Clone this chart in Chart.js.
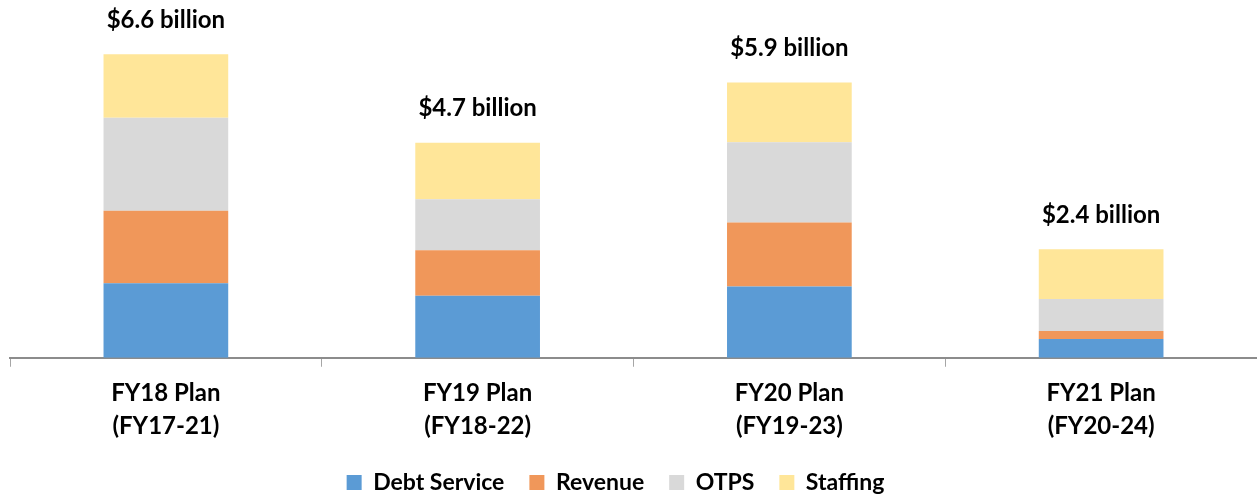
<!DOCTYPE html>
<html>
<head>
<meta charset="utf-8">
<script src="https://cdn.jsdelivr.net/npm/chart.js@4"></script>
<style>
  body { margin: 0; background: #fff; }
  #wrap { width: 1257px; height: 497px; }
</style>
</head>
<body>
<div id="wrap"><canvas id="myChart" width="1257" height="497"></canvas></div>
<script>
const categories = [["FY18 Plan", "(FY17-21)"], ["FY19 Plan", "(FY18-22)"], ["FY20 Plan", "(FY19-23)"], ["FY21 Plan", "(FY20-24)"]];
const debtService = [1.62, 1.35, 1.55, 0.41];
const revenue = [1.58, 0.99, 1.39, 0.17];
const otps = [2.02, 1.11, 1.75, 0.70];
const staffing = [1.38, 1.23, 1.30, 1.08];
const totalLabels = ["$6.6 billion", "$4.7 billion", "$5.9 billion", "$2.4 billion"];

const fontFamily = "Lato, 'Open Sans', sans-serif";

// write the total above each stacked bar
const totalsPlugin = {
  id: "totals",
  afterDatasetsDraw(chart) {
    const ctx = chart.ctx;
    const last = chart.getDatasetMeta(chart.data.datasets.length - 1);
    ctx.save();
    ctx.font = "bold 24px " + fontFamily;
    ctx.fillStyle = "#000";
    ctx.textAlign = "center";
    ctx.textBaseline = "middle";
    last.data.forEach((bar, i) => {
      ctx.fillText(totalLabels[i], bar.x, bar.y - 34);
    });
    ctx.restore();
  }
};

// legend in the original sits a bit left of centre
const legendShift = {
  id: "legendShift",
  afterLayout(chart) {
    const lg = chart.legend;
    lg.left -= 18;
    lg.right -= 18;
    if (lg.adjustHitBoxes) lg.adjustHitBoxes();
  }
};

let ctx = document.getElementById("myChart").getContext("2d");
let chart = new Chart(ctx, {
  type: "bar",
  data: {
    labels: categories,
    datasets: [
      { label: "Debt Service", data: debtService, backgroundColor: "#5B9BD5" },
      { label: "Revenue", data: revenue, backgroundColor: "#F0975A" },
      { label: "OTPS", data: otps, backgroundColor: "#D9D9D9" },
      { label: "Staffing", data: staffing, backgroundColor: "#FFE699" },
    ],
  },
  options: {
    responsive: false,
    animation: false,
    layout: { padding: { top: 13, left: 10, right: 0, bottom: -7 } },
    datasets: { bar: { barPercentage: 0.4, categoryPercentage: 1.0 } },
    scales: {
      x: {
        stacked: true,
        afterFit(scale) { scale.height -= 7; },
        grid: { display: true, drawOnChartArea: false, offset: true, tickLength: 9, color: "#a6a6a6" },
        border: { display: true, color: "#8c8c8c", width: 2 },
        ticks: { color: "#000", font: { family: fontFamily, size: 24, weight: "bold", lineHeight: 1.38 }, padding: 10 },
      },
      y: {
        stacked: true,
        display: false,
        min: 0,
        max: 7.5,
      },
    },
    plugins: {
      tooltip: { enabled: false },
      legend: {
        position: "bottom",
        labels: {
          boxWidth: 15,
          boxHeight: 15,
          padding: 25,
          color: "#000",
          font: { family: fontFamily, size: 23, weight: "bold" },
        },
      },
    },
  },
  plugins: [totalsPlugin, legendShift],
});
</script>
</body>
</html>
